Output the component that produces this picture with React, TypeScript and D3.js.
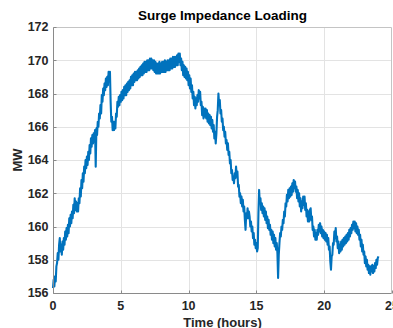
import React, { useEffect, useRef } from "react";
import * as d3 from "d3";

const stepHours = 0.05;
const sil = [
  156.3, 156.8, 156.4, 157.0, 156.7, 157.6, 157.8, 158.4, 158.0, 158.9,
  159.3, 158.5, 158.9, 158.3, 159.1, 158.6, 159.3, 158.9, 159.7, 159.2,
  159.9, 159.4, 160.1, 159.6, 160.5, 160.0, 160.7, 160.2, 160.9, 160.5,
  161.3, 160.8, 161.7, 161.0, 161.5, 160.9, 161.4, 160.9, 161.7, 161.4,
  162.3, 161.8, 162.8, 162.3, 163.2, 162.7, 163.6, 163.2, 164.0, 163.5,
  164.2, 163.7, 164.5, 164.0, 164.9, 164.4, 165.3, 164.8, 165.5, 165.0,
  165.6, 165.1, 165.8, 163.6, 165.9, 165.5, 166.3, 166.0, 166.8, 166.5,
  167.3, 166.8, 167.9, 167.5, 168.3, 167.9, 168.6, 168.2, 168.9, 168.4,
  169.0, 168.5, 169.3, 168.8, 169.3, 167.5, 166.3, 166.6, 165.8, 166.3,
  165.8, 166.3, 165.9, 166.8, 166.6, 167.5, 167.2, 167.8, 167.3, 167.9,
  167.5, 168.1, 167.6, 168.2, 167.7, 168.4, 167.9, 168.5, 167.9, 168.6,
  168.1, 168.7, 168.2, 168.8, 168.3, 169.0, 168.5, 169.1, 168.5, 169.2,
  168.7, 169.3, 168.8, 169.3, 168.8, 169.4, 168.9, 169.5, 169.0, 169.6,
  169.1, 169.7, 169.1, 169.8, 169.2, 169.9, 169.3, 169.9, 169.3, 170.0,
  169.4, 170.0, 169.4, 170.1, 169.5, 170.1, 169.5, 170.0, 169.4, 170.0,
  169.3, 169.9, 169.2, 169.8, 169.2, 169.8, 169.2, 169.9, 169.2, 169.8,
  169.3, 169.9, 169.3, 169.9, 169.3, 170.0, 169.3, 169.9, 169.4, 170.0,
  169.4, 170.0, 169.4, 170.1, 169.5, 170.1, 169.5, 170.2, 169.6, 170.2,
  169.6, 170.2, 169.7, 170.3, 169.7, 170.4, 169.9, 170.4, 169.7, 170.1,
  169.4, 169.9, 169.1, 169.7, 169.0, 169.6, 168.9, 169.5, 168.8, 169.3,
  168.5, 169.1, 168.3, 168.9, 168.1, 168.5, 167.7, 168.1, 167.3, 167.8,
  167.1, 167.7, 167.3, 167.9, 167.5, 168.2, 167.7, 168.1, 167.3, 167.5,
  166.7, 167.2, 166.5, 167.1, 166.6, 167.1, 166.5, 167.0, 166.3, 166.8,
  166.2, 166.7, 166.1, 166.6, 165.9, 166.4, 165.7, 166.1, 165.3, 165.7,
  165.0, 165.6, 166.6, 167.0, 168.0, 167.3, 167.6, 166.8, 167.0, 166.3,
  166.5, 165.8, 166.0, 165.4, 165.7, 165.0, 165.2, 164.6, 165.0, 164.3,
  164.5, 163.8, 164.0, 163.2, 163.4, 162.8, 163.0, 162.6, 163.2, 162.9,
  163.6, 163.0, 163.3, 162.4, 162.5, 161.8, 162.0, 161.4, 161.8, 161.2,
  161.6, 160.9, 161.2, 160.4, 159.8, 160.8, 160.5, 161.1, 160.5, 160.9,
  160.6, 160.0, 160.3, 159.7, 160.0, 159.3, 159.6, 158.9, 159.2, 158.7,
  159.0, 158.5, 158.7, 160.8, 162.2, 161.4, 161.7, 161.0, 161.4, 160.8,
  161.2, 160.6, 161.1, 160.4, 160.9, 160.2, 160.6, 159.9, 160.4, 159.8,
  160.1, 159.5, 159.8, 159.2, 159.7, 159.0, 159.5, 158.8, 159.3, 158.6,
  159.0, 158.4, 156.9, 158.3, 159.0, 159.6, 159.4, 160.0, 159.8, 160.4,
  160.2, 160.9, 160.6, 161.4, 161.2, 161.9, 161.5, 162.2, 161.7, 162.3,
  161.8, 162.4, 161.9, 162.6, 162.1, 162.8, 162.3, 162.7, 162.1, 162.4,
  161.7, 162.2, 161.5, 162.0, 161.2, 161.7, 160.9, 161.5, 161.1, 161.8,
  161.3, 161.8, 161.0, 161.4, 160.6, 161.0, 160.3, 160.9, 160.3, 161.0,
  161.1, 160.4, 160.6, 159.8, 160.0, 159.4, 159.8, 159.2, 159.6, 159.2,
  159.8, 159.5, 160.1, 159.7, 160.2, 159.6, 160.0, 159.4, 159.8, 159.3,
  159.7, 159.2, 159.6, 159.1, 159.5, 158.9, 159.3, 158.6, 158.8, 157.9,
  157.4, 158.2, 158.3, 159.0, 158.9, 159.7, 159.3, 159.9, 159.1, 159.4,
  158.7, 159.1, 158.4, 158.9, 158.5, 159.1, 158.6, 159.2, 158.8, 159.3,
  158.9, 159.4, 159.0, 159.5, 159.1, 159.6, 159.2, 159.8, 159.4, 159.9,
  159.6, 160.1, 159.8, 160.3, 159.9, 160.3, 159.7, 160.2, 159.6, 160.0,
  159.5, 159.8, 159.2, 159.5, 158.8, 159.2, 158.5, 158.9, 158.3, 158.5,
  157.8, 158.2, 157.6, 158.0, 157.4, 157.7, 157.2, 157.6, 157.1, 157.6,
  157.3, 157.7, 157.2, 157.6, 157.3, 157.8, 157.5, 158.0, 157.7, 158.1,
  158.2,
];

const xTicks = [0, 5, 10, 15, 20, 25];
const yTicks = [156, 158, 160, 162, 164, 166, 168, 170, 172];

const width = 393;
const height = 328;
const margin = { top: 27, right: 1, bottom: 35, left: 53 };

export default function App() {
  const refToSvg = useRef<SVGSVGElement>(null);

  useEffect(() => {
    const svg = d3.select(refToSvg.current);
    svg.selectAll("*").remove();

    const x = d3.scaleLinear().domain([0, 25]).range([margin.left, width - margin.right]);
    const y = d3.scaleLinear().domain([156, 172]).range([height - margin.bottom, margin.top]);
    const font = "'Liberation Sans', Arial, Helvetica, sans-serif";

    // grid
    const grid = svg.append("g").attr("stroke", "#e3e3e3").attr("stroke-width", 1);
    grid.selectAll(".gx").data(xTicks.slice(1, -1)).join("line")
      .attr("x1", d => Math.round(x(d)) + 0.5).attr("x2", d => Math.round(x(d)) + 0.5)
      .attr("y1", y(172)).attr("y2", y(156));
    grid.selectAll(".gy").data(yTicks.slice(1, -1)).join("line")
      .attr("x1", x(0)).attr("x2", x(25))
      .attr("y1", d => Math.round(y(d)) + 0.5).attr("y2", d => Math.round(y(d)) + 0.5);

    // data line
    const line = d3.line<number>()
      .x((_, i) => x(i * stepHours))
      .y(d => y(d));
    svg.append("path")
      .datum(sil)
      .attr("fill", "none")
      .attr("stroke", "#0072BD")
      .attr("stroke-width", 2.1)
      .attr("stroke-linejoin", "round")
      .attr("d", line);

    // box
    const x0 = Math.round(x(0)) + 0.5, x1 = Math.round(x(25)) - 0.5;
    const y0 = Math.round(y(156)) + 0.5, y1 = Math.round(y(172)) + 0.5;
    svg.append("line").attr("x1", x0).attr("x2", x1).attr("y1", y1).attr("y2", y1).attr("stroke", "#c4c4c4");
    svg.append("line").attr("x1", x1).attr("x2", x1).attr("y1", y1).attr("y2", y0).attr("stroke", "#c4c4c4");
    svg.append("line").attr("x1", x0).attr("x2", x0).attr("y1", y1).attr("y2", y0).attr("stroke", "#8a8a8a");
    svg.append("line").attr("x1", x0).attr("x2", x1).attr("y1", y0).attr("y2", y0).attr("stroke", "#8a8a8a");

    // ticks
    svg.append("g").selectAll("line").data(yTicks).join("line")
      .attr("x1", x0).attr("x2", x0 + 3)
      .attr("y1", d => Math.round(y(d)) + 0.5).attr("y2", d => Math.round(y(d)) + 0.5)
      .attr("stroke", "#8a8a8a");
    svg.append("g").selectAll("line").data(xTicks).join("line")
      .attr("x1", d => Math.round(x(d)) + 0.5).attr("x2", d => Math.round(x(d)) + 0.5)
      .attr("y1", y0).attr("y2", y0 - 3)
      .attr("stroke", "#8a8a8a");

    // tick labels
    svg.append("g").selectAll("text").data(yTicks).join("text")
      .attr("x", x0 - 5).attr("y", d => y(d)).attr("dy", "0.35em")
      .attr("text-anchor", "end")
      .attr("font-family", font).attr("font-size", 12.5).attr("font-weight", "bold")
      .attr("fill", "#262626")
      .text(d => d);
    svg.append("g").selectAll("text").data(xTicks).join("text")
      .attr("x", d => x(d)).attr("y", y0 + 16)
      .attr("text-anchor", "middle")
      .attr("font-family", font).attr("font-size", 12.5).attr("font-weight", "bold")
      .attr("fill", "#262626")
      .text(d => d);

    // title & labels
    svg.append("text")
      .attr("x", (x(0) + x(25)) / 2).attr("y", 20)
      .attr("text-anchor", "middle")
      .attr("font-family", font).attr("font-size", 13.5).attr("font-weight", "bold")
      .attr("fill", "#000")
      .text("Surge Impedance Loading");
    svg.append("text")
      .attr("x", (x(0) + x(25)) / 2).attr("y", 327)
      .attr("text-anchor", "middle")
      .attr("font-family", font).attr("font-size", 13).attr("font-weight", "bold")
      .attr("fill", "#262626")
      .text("Time (hours)");
    svg.append("text")
      .attr("transform", `translate(22,${(y(156) + y(172)) / 2}) rotate(-90)`)
      .attr("text-anchor", "middle")
      .attr("font-family", font).attr("font-size", 13).attr("font-weight", "bold")
      .attr("fill", "#262626")
      .text("MW");
  }, []);

  return (
    <svg
      ref={refToSvg}
      width={width}
      height={height}
      style={{ position: "absolute", left: 0, top: 0, background: "#fff" }}
    />
  );
}
